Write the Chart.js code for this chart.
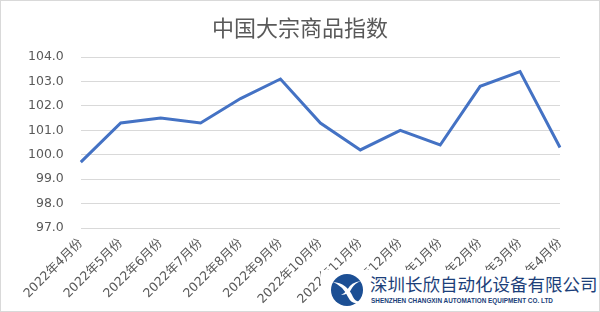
<!DOCTYPE html>
<html>
<head>
<meta charset="utf-8">
<script src="https://cdn.jsdelivr.net/npm/chart.js@4/dist/chart.umd.min.js"></script>
<style>
  html, body { margin: 0; padding: 0; background: #fff; }
  #wrap { position: relative; width: 598px; height: 310px; border: 1px solid #d9d9d9; overflow: hidden; }
  #wrap canvas { display: block; }
  .mark { position: absolute; left: 320px; top: 269px; width: 280px; height: 42px; background: #fff; }
  .mark svg { position: absolute; left: 8px; top: 3px; }
  .mark .cn { position: absolute; left: 49px; top: 3px; font: 17.5px "Noto Sans CJK SC", sans-serif; color: #1c3f7a; white-space: nowrap; line-height: 22px; }
  .mark .en { position: absolute; left: 50px; top: 27px; font: bold 6.4px "Liberation Sans Narrow", "Liberation Sans", sans-serif; color: #1c3f7a; white-space: nowrap; }
</style>
</head>
<body>
<div id="wrap">
  <canvas id="chart" width="598" height="310"></canvas>
  <div class="mark">
    <svg width="36" height="34" viewBox="0 0 36 34">
      <circle cx="18" cy="17" r="16" fill="#1c4f94"/>
      <path d="M4 9 Q18 10 24 24 Q27 30 34 28 Q24 34 19 24 Q14 13 4 9 Z" fill="#fff"/>
      <path d="M32 8 Q22 9 18 17 Q16 20 12 22 Q20 22 23 15 Q26 10 32 8 Z" fill="#fff"/>
    </svg>
    <div class="cn">深圳长欣自动化设备有限公司</div>
    <div class="en">SHENZHEN CHANGXIN AUTOMATION EQUIPMENT CO. LTD</div>
  </div>
</div>
<script>
// Chart data
const months = ['2022年4月份', '2022年5月份', '2022年6月份', '2022年7月份', '2022年8月份',
  '2022年9月份', '2022年10月份', '2022年11月份', '2022年12月份', '2023年1月份',
  '2023年2月份', '2023年3月份', '2023年4月份'];
const indexValues = [99.7, 101.3, 101.5, 101.3, 102.3, 103.1, 101.3, 100.2, 101.0, 100.4, 102.8, 103.4, 100.3];
const chartTitle = '中国大宗商品指数';

const fontFamily = '"Noto Sans CJK SC", "Microsoft YaHei", sans-serif';
const tickFamily = '"DejaVu Sans", "Noto Sans CJK SC", sans-serif';

// title centred on the whole canvas, not on the padded box
const centreTitle = {
  id: 'centreTitle',
  afterDraw(chart) {
    const c = chart.ctx;
    c.save();
    c.font = '22px ' + fontFamily;
    c.fillStyle = '#595959';
    c.textAlign = 'center';
    c.textBaseline = 'middle';
    c.fillText(chartTitle, chart.width / 2, 27);
    c.restore();
  }
};

const ctx = document.getElementById('chart').getContext('2d');
const chart = new Chart(ctx, {
  type: 'line',
  data: {
    labels: months,
    datasets: [{
      label: chartTitle,
      data: indexValues,
      borderColor: '#4472c4',
      backgroundColor: '#4472c4',
      borderWidth: 3,
      pointRadius: 0,
      tension: 0
    }]
  },
  options: {
    responsive: false,
    animation: false,
    layout: { padding: { left: 10, right: 39, top: 56, bottom: 4 } },
    plugins: {
      legend: { display: false },
      tooltip: { enabled: false },
      title: { display: false }
    },
    scales: {
      x: {
        grid: { display: false },
        border: { display: false },
        ticks: {
          color: '#595959',
          font: { family: tickFamily, size: 12.5 },
          minRotation: 45,
          maxRotation: 45,
          autoSkip: false,
          padding: 0
        }
      },
      y: {
        min: 97,
        max: 104,
        border: { display: false },
        grid: { color: '#d9d9d9', drawTicks: false },
        ticks: {
          stepSize: 1,
          color: '#595959',
          font: { family: tickFamily, size: 12.5 },
          padding: 17,
          callback: v => v.toFixed(1)
        }
      }
    }
  },
  plugins: [centreTitle]
});
</script>
</body>
</html>
